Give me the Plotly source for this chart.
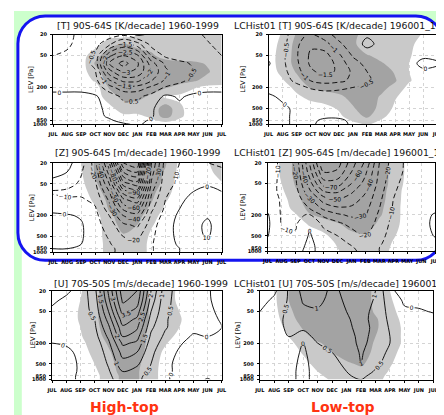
import numpy as np
import plotly.graph_objects as go

W, H = 444, 415

MONTHS = ["JUL", "AUG", "SEP", "OCT", "NOV", "DEC", "JAN", "FEB", "MAR", "APR", "MAY", "JUN", "JUL"]
MONTH_INDEX = list(range(len(MONTHS)))
LEVELS = [20, 30, 50, 70, 100, 150, 200, 300, 500, 700, 850, 1000]
LEV_TICKS = [20, 50, 200, 500, 850, 1000]
LEV_TICK_TEXT = ["20", "50", "200", "500", "850", "1000"]

# ---------------- data (rows = pressure levels, 20 -> 1000 hPa) ----------------
T_HIGH_BY_LEVEL = [
    [-0.8, -0.7, -0.3, -0.2, -0.2, -0.4, 0.1, -0.1, -0.2, -0.2, -0.35, -0.6, -0.8],
    [-0.7, -0.6, -0.3, -0.3, -0.9, -1.6, -1.2, -0.3, -0.2, -0.2, -0.3, -0.45, -0.7],
    [-0.5, -0.4, -0.3, -0.6, -2.4, -3.0, -2.6, -1.0, -0.4, -0.3, -0.3, -0.35, -0.5],
    [-0.3, -0.2, -0.2, -0.65, -3.0, -3.7, -3.1, -1.7, -0.9, -0.6, -0.45, -0.3, -0.3],
    [-0.2, -0.2, -0.2, -0.45, -2.3, -3.1, -2.9, -1.9, -1.1, -0.7, -0.5, -0.3, -0.2],
    [-0.1, -0.1, -0.1, -0.3, -1.4, -2.1, -2.1, -1.5, -0.9, -0.6, -0.35, -0.2, -0.15],
    [-0.1, -0.1, -0.1, -0.2, -0.8, -1.3, -1.3, -0.9, -0.45, -0.3, -0.2, -0.1, -0.1],
    [0.1, 0.1, 0.1, 0.05, -0.2, -0.6, -0.6, -0.3, 0.1, -0.05, 0.1, 0.1, 0.1],
    [0.2, 0.2, 0.2, 0.1, -0.1, -0.3, -0.3, -0.1, 0.4, 0.1, 0.2, 0.2, 0.2],
    [0.2, 0.2, 0.2, 0.1, -0.05, -0.2, -0.2, -0.05, 0.3, 0.1, 0.2, 0.2, 0.2],
    [0.2, 0.2, 0.15, 0.1, 0.05, -0.1, -0.1, 0.05, 0.2, 0.1, 0.15, 0.2, 0.2],
    [0.2, 0.2, 0.15, 0.1, 0.1, 0.05, -0.05, 0.1, 0.2, 0.1, 0.15, 0.2, 0.2],
]
SIG_T_HIGH_BY_LEVEL = [
    [0, 0, 0, 0, 0, 0, 0.4, 1, 1, 1, 1, 1, 1],
    [0, 0, 0, 0, 1.2, 1.6, 1.2, 1, 1, 1, 1, 1, 1],
    [0, 0, 0, 1.2, 2, 2, 2, 1.7, 1, 0.9, 0.9, 1, 1],
    [0, 0, 0, 1.6, 2, 2, 2, 2, 2, 1.8, 1.7, 1.4, 1],
    [0, 0, 0, 1.2, 2, 2, 2, 2, 2, 2, 2, 1.6, 1],
    [0, 0, 0, 0.6, 2, 2, 2, 2, 2, 1.9, 1.6, 1.2, 1],
    [0, 0, 0, 0, 1.6, 2, 2, 2, 1.6, 1.1, 0.6, 0.2, 0.2],
    [0, 0, 0, 0, 1, 1.8, 1.8, 1.3, 0.3, 0.3, 0, 0, 0],
    [0, 0, 0, 0, 0.2, 1, 1, 0.7, 2.2, 0.7, 0, 0, 0],
    [0, 0, 0, 0, 0, 0.3, 0.3, 0.7, 2.0, 0.7, 0, 0, 0],
    [0, 0, 0, 0, 0, 0, 0, 0.3, 0.8, 0.3, 0, 0, 0],
    [0, 0, 0, 0, 0, 0, 0, 0, 0, 0, 0, 0, 0],
]
T_LOW_BY_LEVEL = [
    [-0.1, -0.3, -0.8, -1.1, -0.7, -0.3, -0.1, -0.05, -0.05, -0.1, -0.1, -0.05, -0.1],
    [-0.1, -0.35, -0.9, -1.4, -1.2, -0.6, -0.2, 0.1, -0.1, -0.2, -0.1, -0.05, -0.1],
    [-0.1, -0.4, -0.95, -1.6, -1.7, -1.1, -0.45, -0.2, -0.2, -0.2, -0.1, -0.05, -0.1],
    [0.05, -0.4, -0.9, -1.6, -1.85, -1.3, -0.7, -0.35, -0.25, -0.2, -0.1, 0.08, 0.05],
    [-0.1, -0.35, -0.8, -1.4, -1.7, -1.4, -0.9, -0.5, -0.3, -0.2, -0.1, -0.05, -0.1],
    [-0.1, -0.3, -0.6, -1.0, -1.2, -1.1, -0.9, -0.6, -0.3, -0.2, -0.1, -0.1, -0.1],
    [-0.1, -0.2, -0.35, -0.55, -0.65, -0.6, -0.5, -0.4, -0.25, -0.15, -0.1, -0.1, -0.1],
    [0.05, -0.05, -0.15, -0.2, -0.25, -0.25, -0.2, -0.2, -0.15, -0.1, -0.1, -0.1, -0.05],
    [0.1, 0.05, -0.05, -0.1, -0.1, -0.1, -0.1, -0.15, -0.1, -0.1, -0.1, -0.05, -0.05],
    [0.1, 0.05, -0.05, -0.1, -0.05, -0.05, -0.1, -0.1, -0.1, -0.1, -0.05, -0.05, -0.05],
    [0.1, 0.05, -0.05, -0.05, 0.05, 0.05, -0.05, -0.1, -0.1, -0.05, -0.05, -0.05, -0.05],
    [0.1, 0.05, -0.05, -0.05, 0.1, 0.1, -0.05, -0.1, -0.1, -0.05, -0.05, -0.05, -0.05],
]
SIG_T_LOW_BY_LEVEL = [
    [0, 0.6, 1.6, 2, 2, 2, 1.8, 1, 1, 1, 1, 0.4, 0],
    [0, 0.8, 1.8, 2, 2, 2, 1.8, 0.6, 1, 1, 0.8, 0, 0],
    [0, 1, 1.8, 2, 2, 2, 2, 1.6, 1.2, 1, 0.6, 0, 0],
    [0, 1, 1.8, 2, 2, 2, 2, 2, 1.6, 1.1, 0.5, 0, 0],
    [0, 0.8, 1.6, 2, 2, 2, 2, 2, 2, 1.4, 0.5, 0, 0],
    [0, 0.4, 1.2, 2, 2, 2, 2, 2, 2, 1.6, 0.6, 0, 0],
    [0, 0, 0.8, 1.6, 1.8, 2, 2, 2, 1.8, 1.2, 0.2, 0, 0],
    [0, 0, 0.3, 0.8, 1.0, 1.3, 1.8, 2, 1.4, 0.6, 0, 0, 0],
    [0, 0, 0, 0, 0.2, 0.6, 1.4, 2, 1.2, 0.3, 0, 0, 0],
    [0, 0, 0, 0, 0, 0.3, 1.0, 1.7, 0.8, 0, 0, 0, 0],
    [0, 0, 0, 0, 0, 0, 0.6, 1.1, 0.4, 0, 0, 0, 0],
    [0, 0, 0, 0, 0, 0, 0.2, 0.6, 0.2, 0, 0, 0, 0],
]

# ---------------- data (rows = months JUL..JUL, values 20 -> 1000 hPa) ----------------
Z_HIGH_BY_MONTH = [
    [5, 3, -3, -11, -8, -3, 2, 3, 2, 1, 0, 0],
    [3, 0, -6, -12, -9, -4, 1, 3, 2, 1, 0, 0],
    [-5, -9, -12, -12, -9, -5, -1, 1, 1, 0, -1, -1],
    [-25, -22, -18, -15, -12, -9, -7, -6, -5, -5, -5, -5],
    [-80, -65, -50, -40, -32, -25, -20, -15, -11, -9, -8, -8],
    [-150, -130, -105, -85, -68, -52, -40, -28, -20, -16, -13, -13],
    [-160, -140, -115, -95, -76, -58, -46, -32, -22, -18, -15, -14],
    [-50, -45, -38, -32, -27, -22, -18, -14, -12, -11, -11, -11],
    [-15, -14, -13, -12, -10, -8, -6, -4, -3, -3, -4, -4],
    [-10, -9, -8, -5, -2, 0, 2, 3, 2, 1, 0, 0],
    [-8, -6, -3, 0, 3, 5, 6, 7, 7, 5, 3, 2],
    [-10, -6, -1, 2, 4, 6, 9, 12, 11, 6, 4, 3],
    [-12, -8, -3, 0, 2, 3, 4, 4, 3, 2, 1, 1],
]
SIG_Z_HIGH_BY_MONTH = [
    [0] * 12,
    [0] * 12,
    [0.5, 0.4, 0.2, 0, 0, 0, 0, 0, 0, 0, 0, 0],
    [1.6, 1.6, 1.4, 1.1, 0.7, 0.4, 0.1, 0, 0, 0, 0, 0],
    [2, 2, 2, 2, 1.8, 1.6, 1.3, 1.1, 1.0, 0.9, 0.9, 0.9],
    [2, 2, 2, 2, 2, 2, 2, 1.8, 1.4, 1.2, 1.2, 1.2],
    [2, 2, 2, 2, 2, 2, 1.8, 1.5, 1.2, 1.1, 1.1, 1.1],
    [2, 2, 2, 1.8, 1.6, 1.3, 1.0, 0.6, 0.3, 0.2, 0.2, 0.2],
    [1.6, 1.4, 1.2, 0.9, 0.6, 0.3, 0, 0, 0, 0, 0, 0],
    [0.3, 0.2, 0, 0, 0, 0, 0, 0, 0, 0, 0, 0],
    [0] * 12,
    [0.4, 0.2, 0, 0, 0, 0, 0, 0, 0, 0, 0, 0],
    [1.2, 1.0, 0.4, 0, 0, 0, 0, 0, 0, 0, 0, 0],
]
Z_LOW_BY_MONTH = [
    [-5, -5, -6, -6, -5, -2, 1, 2, 0.5, -2, -3, -3],
    [-12, -12, -12, -12, -11, -11, -11, -10.5, -9, -6, -4, -3],
    [-22, -20, -18, -16, -14, -13, -12, -11, -9, -5, -3, -2],
    [-60, -55, -45, -38, -28, -20, -9, -1, 1, 2, 2, 2],
    [-100, -90, -75, -60, -45, -32, -22, -12, -6, -4, -3, -3],
    [-95, -88, -75, -62, -50, -38, -28, -17, -10, -7, -6, -6],
    [-75, -70, -60, -52, -45, -38, -32, -23, -15, -11, -9, -8],
    [-58, -52, -46, -41, -37, -33, -30, -26, -20, -16, -14, -13],
    [-30, -28, -26, -24, -22, -20, -18, -16, -13, -11, -10, -10],
    [-15, -14, -12, -11, -10, -9, -8, -7, -6, -6, -6, -6],
    [-8, -8, -7, -6, -5, -5, -4, -4, -4, -4, -4, -4],
    [-6, -6, -6, -5, -4, -3, -3, -3, -3, -3, -3, -3],
    [-5, -5, -6, -6, -5, -2, 1, 2, 0.5, -2, -3, -3],
]
SIG_Z_LOW_BY_MONTH = [
    [0] * 12,
    [0.6, 0.6, 0.5, 0.3, 0, 0, 0, 0, 0, 0, 0, 0],
    [1.8, 1.8, 1.6, 1.4, 1.2, 0.8, 0.4, 0, 0, 0, 0, 0],
    [2, 2, 2, 2, 2, 1.8, 1.4, 0.6, 0, 0, 0, 0],
    [2, 2, 2, 2, 2, 2, 1.8, 1.0, 0.3, 0, 0, 0],
    [2, 2, 2, 2, 2, 2, 2, 1.4, 0.9, 0.6, 0.5, 0.4],
    [2, 2, 2, 2, 2, 2, 2, 1.8, 1.3, 1.2, 1.1, 1.0],
    [2, 2, 2, 2, 2, 2, 2, 2, 1.4, 1.2, 1.2, 1.2],
    [2, 2, 2, 1.8, 1.8, 1.7, 1.6, 1.3, 1.1, 1.1, 1.1, 1.1],
    [1.2, 1.2, 1.2, 1.2, 1.1, 1.0, 1.0, 0.9, 0.6, 0.4, 0.3, 0.2],
    [0.3, 0.3, 0.2, 0, 0, 0, 0, 0, 0, 0, 0, 0],
    [0] * 12,
    [0] * 12,
]
U_HIGH_BY_MONTH = [
    [-0.2, -0.1, 0.1, 0.2, 0.2, 0.15, 0.0, -0.15, -0.2, -0.2, -0.2, -0.2],
    [-0.1, 0.1, 0.2, 0.25, 0.25, 0.2, 0.05, -0.1, -0.15, -0.15, -0.1, -0.1],
    [0.2, 0.25, 0.3, 0.3, 0.3, 0.25, 0.2, 0.1, 0.05, 0.05, 0.05, 0.05],
    [0.8, 0.7, 0.6, 0.5, 0.4, 0.3, 0.2, 0.15, 0.1, 0.1, 0.1, 0.1],
    [2.6, 2.4, 2.0, 1.7, 1.4, 1.1, 0.9, 0.7, 0.55, 0.45, 0.4, 0.35],
    [4.3, 4.1, 3.7, 3.3, 2.9, 2.5, 2.1, 1.7, 1.3, 1.0, 0.85, 0.8],
    [4.0, 3.8, 3.3, 2.9, 2.6, 2.2, 1.9, 1.5, 1.1, 0.8, 0.65, 0.6],
    [2.0, 1.8, 1.5, 1.3, 1.1, 0.9, 0.75, 0.6, 0.5, 0.4, 0.3, 0.3],
    [0.7, 0.65, 0.6, 0.55, 0.55, 0.4, 0.3, 0.2, 0.1, 0.1, 0.05, 0.05],
    [0.3, 0.3, 0.3, 0.3, 0.25, 0.15, 0.05, -0.05, -0.1, -0.1, -0.1, -0.1],
    [0.2, 0.2, 0.2, 0.2, 0.1, -0.05, -0.15, -0.2, -0.2, -0.2, -0.2, -0.2],
    [0.05, 0.05, 0.1, 0.15, 0.1, 0.0, -0.1, -0.15, -0.15, -0.15, -0.1, 0.05],
    [-0.2, -0.15, -0.1, -0.05, 0.0, -0.05, -0.1, -0.15, -0.2, -0.2, -0.2, -0.2],
]
SIG_U_HIGH_BY_MONTH = [
    [0] * 12,
    [0] * 12,
    [0.4, 0.5, 0.6, 0.6, 0.5, 0.4, 0.2, 0, 0, 0, 0, 0],
    [1.2, 1.3, 1.3, 1.3, 1.2, 1.1, 1.0, 0.8, 0.5, 0.3, 0.2, 0.2],
    [2, 2, 2, 2, 2, 1.8, 1.6, 1.4, 1.2, 1.1, 1.0, 1.0],
    [2, 2, 2, 2, 2, 2, 2, 2, 1.9, 1.8, 1.7, 1.7],
    [2, 2, 2, 2, 2, 2, 2, 1.9, 1.7, 1.6, 1.6, 1.6],
    [1.4, 1.4, 1.4, 1.4, 1.3, 1.2, 1.2, 1.1, 1.0, 1.0, 1.0, 1.0],
    [1.0, 1.0, 1.1, 1.2, 1.1, 0.9, 0.6, 0.3, 0.1, 0, 0, 0],
    [0.3, 0.3, 0.5, 0.6, 0.5, 0.2, 0, 0, 0, 0, 0, 0],
    [0] * 12,
    [0] * 12,
    [0] * 12,
]
U_LOW_BY_MONTH = [
    [-0.3, -0.2, 0.0, 0.2, 0.3, 0.35, 0.35, 0.3, 0.3, 0.3, 0.3, 0.3],
    [-0.1, 0.1, 0.25, 0.35, 0.4, 0.4, 0.4, 0.35, 0.35, 0.35, 0.35, 0.35],
    [0.55, 0.55, 0.6, 0.6, 0.55, 0.5, 0.45, 0.3, 0.2, 0.15, 0.15, 0.15],
    [1.15, 1.05, 0.9, 0.75, 0.6, 0.3, -0.02, -0.1, -0.15, -0.15, -0.15, -0.15],
    [1.2, 1.1, 0.95, 0.85, 0.75, 0.65, 0.5, 0.35, 0.25, 0.2, 0.2, 0.2],
    [0.9, 0.88, 0.9, 0.85, 0.8, 0.75, 0.65, 0.5, 0.35, 0.3, 0.25, 0.25],
    [1.1, 1.05, 1.0, 0.95, 0.9, 0.85, 0.8, 0.7, 0.6, 0.5, 0.45, 0.4],
    [1.3, 1.25, 1.2, 1.15, 1.15, 1.1, 1.1, 1.05, 1.0, 0.75, 0.6, 0.5],
    [1.0, 0.95, 0.85, 0.85, 0.9, 0.9, 0.85, 0.75, 0.6, 0.45, 0.35, 0.3],
    [0.05, 0.2, 0.35, 0.4, 0.45, 0.5, 0.5, 0.4, 0.3, 0.2, 0.15, 0.1],
    [-0.1, -0.05, 0.05, 0.2, 0.25, 0.25, 0.25, 0.2, 0.15, 0.1, 0.1, 0.1],
    [-0.1, -0.05, 0.02, 0.1, 0.15, 0.2, 0.2, 0.2, 0.15, 0.15, 0.1, 0.1],
    [-0.1, -0.05, -0.01, 0.05, 0.2, 0.3, 0.35, 0.3, 0.3, 0.3, 0.3, 0.3],
]
SIG_U_LOW_BY_MONTH = [
    [0] * 12,
    [0.3, 0.3, 0.2, 0.1, 0, 0, 0, 0, 0, 0, 0, 0],
    [1.5, 1.5, 1.3, 1.1, 0.8, 0.5, 0.2, 0, 0, 0, 0, 0],
    [2, 2, 2, 1.9, 1.6, 1.2, 1.0, 0.6, 0.2, 0, 0, 0],
    [2, 2, 2, 2, 2, 1.8, 1.4, 1.1, 0.8, 0.5, 0.3, 0.2],
    [2, 2, 2, 2, 2, 2, 1.8, 1.5, 1.2, 1.0, 0.8, 0.6],
    [2, 2, 2, 2, 2, 2, 2, 1.8, 1.4, 1.2, 1.1, 1.0],
    [2, 2, 2, 2, 2, 2, 2, 1.9, 1.6, 1.3, 1.2, 1.1],
    [1.3, 1.3, 1.4, 1.6, 1.6, 1.5, 1.4, 1.3, 1.2, 1.1, 1.0, 0.9],
    [0.5, 0.6, 0.8, 1.0, 1.1, 1.1, 1.1, 0.9, 0.6, 0.4, 0.2, 0.1],
    [0, 0, 0.1, 0.2, 0.3, 0.3, 0.3, 0.1, 0, 0, 0, 0],
    [0] * 12,
    [0] * 12,
]

TITLES = [
    "[T] 90S-64S [K/decade] 1960-1999",
    "LCHist01 [T] 90S-64S [K/decade] 196001_199912",
    "[Z] 90S-64S [m/decade] 1960-1999",
    "LCHist01 [Z] 90S-64S [m/decade] 196001_199912",
    "[U] 70S-50S [m/s/decade] 1960-1999",
    "LCHist01 [U] 70S-50S [m/s/decade] 196001_199912",
]
INTERVALS = [0.5, 0.5, 10, 10, 0.5, 0.5]
BOTTOM_LABELS = ["High-top", "Low-top"]


def by_month(cols):
    return np.array(cols, dtype=float).T


FIELDS = [
    np.array(T_HIGH_BY_LEVEL, dtype=float),
    np.array(T_LOW_BY_LEVEL, dtype=float),
    by_month(Z_HIGH_BY_MONTH),
    by_month(Z_LOW_BY_MONTH),
    by_month(U_HIGH_BY_MONTH),
    by_month(U_LOW_BY_MONTH),
]
SIGS = [
    np.array(SIG_T_HIGH_BY_LEVEL, dtype=float),
    np.array(SIG_T_LOW_BY_LEVEL, dtype=float),
    by_month(SIG_Z_HIGH_BY_MONTH),
    by_month(SIG_Z_LOW_BY_MONTH),
    by_month(SIG_U_HIGH_BY_MONTH),
    by_month(SIG_U_LOW_BY_MONTH),
]

# ---------------- layout (pixel boxes of each panel) ----------------
BOXES = [  # x0, x1, y0(top), y1(bottom)
    (40, 213, 24, 115),
    (261, 434, 24, 115),
    (40, 213, 154, 245),
    (260, 432, 154, 244),
    (39, 213, 284, 374),
    (252, 430, 284, 374),
]
TITLE_POS = [(127, 15, "center"), (224, 15, "left"), (127, 144, "center"),
             (224, 144, "left"), (130, 277, "center"), (224, 277, "left")]
YTITLE_X = [18, 235, 18, 235, 20, 230]

LIGHT = "#c9c9c9"
DARK = "#a3a3a3"
SHADE_SCALE = [[0, "rgba(255,255,255,0)"], [0.25, "rgba(255,255,255,0)"],
               [0.25, LIGHT], [0.75, LIGHT], [0.75, DARK], [1, DARK]]
BLACK_SCALE = [[0, "black"], [1, "black"]]


def xdom(x0, x1):
    return [x0 / W, x1 / W]


def ydom(y0, y1):
    return [1 - y1 / H, 1 - y0 / H]


def P(x, y):
    return f"{x / W:.5f},{1 - y / H:.5f}"


fig = go.Figure()
layout_axes = {}
annotations = []
label_font = dict(family="DejaVu Sans", size=6, color="black")

for i in range(6):
    n = "" if i == 0 else str(i + 1)
    xr, yr = "x" + n, "y" + n
    z = FIELDS[i]
    iv = INTERVALS[i]
    fig.add_trace(go.Contour(
        x=MONTH_INDEX, y=LEVELS, z=SIGS[i], xaxis=xr, yaxis=yr,
        autocontour=False, contours=dict(start=0.5, end=1.5, size=1, coloring="fill", showlines=False),
        colorscale=SHADE_SCALE, showscale=False, line=dict(width=0, smoothing=1.0),
        hoverinfo="skip"))
    fig.add_trace(go.Contour(
        x=MONTH_INDEX, y=LEVELS, z=z, xaxis=xr, yaxis=yr,
        autocontour=False,
        contours=dict(start=-iv * 40, end=-iv, size=iv, coloring="lines",
                      showlabels=True, labelfont=label_font, labelformat="~g"),
        colorscale=BLACK_SCALE,
        line=dict(width=0.9, dash="5px,3px", smoothing=1.0),
        showscale=False, hoverinfo="skip"))
    fig.add_trace(go.Contour(
        x=MONTH_INDEX, y=LEVELS, z=z, xaxis=xr, yaxis=yr,
        autocontour=False,
        contours=dict(start=0, end=iv * 40, size=iv, coloring="lines",
                      showlabels=True, labelfont=label_font, labelformat="~g"),
        colorscale=BLACK_SCALE,
        line=dict(width=0.9, smoothing=1.0),
        showscale=False, hoverinfo="skip"))

    x0, x1, y0, y1 = BOXES[i]
    tick_font = dict(family="DejaVu Sans", size=5, color="black", weight="bold")
    common = dict(ticks="outside", ticklen=2, tickcolor="black", showline=True, linecolor="black",
                  linewidth=1, mirror=True, showgrid=True, gridcolor="#d4d4d4", griddash="dot",
                  gridwidth=0.5, zeroline=False, fixedrange=True, tickfont=tick_font)
    layout_axes["xaxis" + n] = dict(
        domain=xdom(x0, x1), anchor=yr, range=[0, 12], tickmode="array",
        tickvals=MONTH_INDEX, ticktext=MONTHS, tickangle=0, ticklabelstandoff=3, **common)
    layout_axes["yaxis" + n] = dict(
        domain=ydom(y0, y1), anchor=xr, type="log", range=[3, np.log10(20)],
        tickmode="array", tickvals=LEV_TICKS, ticktext=LEV_TICK_TEXT, ticklabelstandoff=2, **common)

    tx, ty, anc = TITLE_POS[i]
    annotations.append(dict(
        text=TITLES[i], x=tx / W, y=1 - ty / H, xref="paper", yref="paper",
        xanchor=anc, yanchor="middle", showarrow=False,
        font=dict(family="DejaVu Sans", size=9.3, color="#111111")))
    annotations.append(dict(
        text="LEV [Pa]", x=YTITLE_X[i] / W, y=1 - ((y0 + y1) / 2) / H, xref="paper", yref="paper",
        xanchor="center", yanchor="middle", textangle=-90, showarrow=False,
        font=dict(family="DejaVu Sans", size=6.5, color="black")))

for label, cx in zip(BOTTOM_LABELS, [113, 337]):
    annotations.append(dict(
        text=label, x=cx / W, y=1 - 402 / H, xref="paper", yref="paper",
        xanchor="center", yanchor="middle", showarrow=False,
        font=dict(family="DejaVu Sans", size=14, color="#ff3311", weight="bold")))

GREEN = "#ccffcc"
BLUE = "#1414f0"
k, r = 0.5523, 28
bx0, by0, bx1, by1 = 4, 5, 440, 253
rounded = (f"M {P(bx0 + r, by0)} L {P(bx1 - r, by0)} "
           f"C {P(bx1 - r + k * r, by0)} {P(bx1, by0 + r - k * r)} {P(bx1, by0 + r)} "
           f"L {P(bx1, by1 - r)} "
           f"C {P(bx1, by1 - r + k * r)} {P(bx1 - r + k * r, by1)} {P(bx1 - r, by1)} "
           f"L {P(bx0 + r, by1)} "
           f"C {P(bx0 + r - k * r, by1)} {P(bx0, by1 - r + k * r)} {P(bx0, by1 - r)} "
           f"L {P(bx0, by0 + r)} "
           f"C {P(bx0, by0 + r - k * r)} {P(bx0 + r - k * r, by0)} {P(bx0 + r, by0)} Z")

shapes = [
    dict(type="rect", xref="paper", yref="paper", x0=0, x1=1, y0=1 - 32 / H, y1=1,
         fillcolor=GREEN, line=dict(width=0), layer="below"),
    dict(type="rect", xref="paper", yref="paper", x0=0, x1=8 / W, y0=0, y1=1,
         fillcolor=GREEN, line=dict(width=0), layer="below"),
    dict(type="path", xref="paper", yref="paper", path=rounded,
         fillcolor="white", line=dict(color=BLUE, width=3), layer="below"),
    dict(type="rect", xref="paper", yref="paper", x0=441 / W, x1=1, y0=1 - 165 / H, y1=1 - 93 / H,
         fillcolor=BLUE, line=dict(width=0), layer="below"),
]

fig.update_layout(
    width=W, height=H, autosize=False,
    margin=dict(l=0, r=0, t=0, b=0),
    paper_bgcolor="white", plot_bgcolor="rgba(0,0,0,0)",
    showlegend=False, shapes=shapes, annotations=annotations,
    **layout_axes)

fig.write_html("out.html")
